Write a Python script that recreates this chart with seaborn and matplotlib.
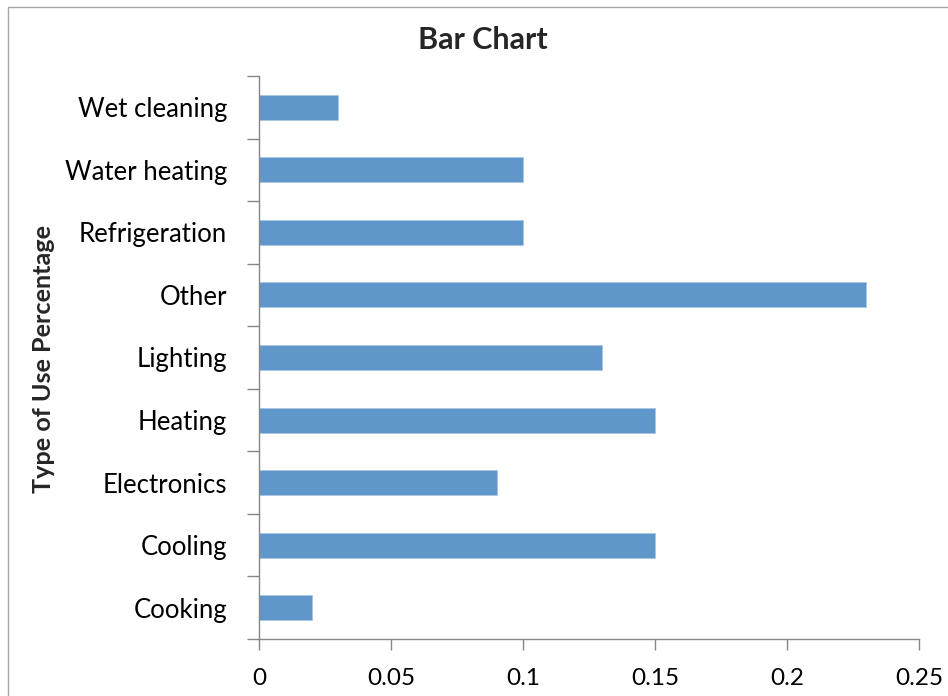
import matplotlib
matplotlib.use("Agg")
import matplotlib.pyplot as plt
import seaborn as sns
import pandas as pd
from matplotlib.patches import Rectangle
from matplotlib.ticker import FixedLocator

# Data (top to bottom as drawn):
uses = ["Wet cleaning", "Water heating", "Refrigeration", "Other", "Lighting",
        "Heating", "Electronics", "Cooling", "Cooking"]
shares = [0.03, 0.10, 0.10, 0.23, 0.13, 0.15, 0.09, 0.15, 0.02]
x_ticks = [0, 0.05, 0.1, 0.15, 0.2, 0.25]
x_labels = ["0", "0.05", "0.1", "0.15", "0.2", "0.25"]

df = pd.DataFrame({"use": uses, "share": shares})

sns.set_style("white")
plt.rcParams["font.family"] = ["Lato", "DejaVu Sans"]

fig = plt.figure(figsize=(9.48, 6.96), dpi=100)
ax = fig.add_axes([259 / 948, 1 - 639 / 696, 660 / 948, 563 / 696])

sns.barplot(data=df, x="share", y="use", order=uses, color="#6097CB",
            saturation=1, width=0.4, edgecolor="#A9C6E3", linewidth=0.6, ax=ax)

# Axes styling like the spreadsheet chart:
grey = "#868686"
ax.set_xlim(0, 0.25)
ax.set_ylim(len(uses) - 0.5, -0.5)
ax.set_xticks(x_ticks)
ax.set_xticklabels(x_labels)
ax.yaxis.set_minor_locator(FixedLocator([i - 0.5 for i in range(len(uses) + 1)]))
ax.tick_params(axis="y", which="major", length=0, pad=23, labelsize=18.5, labelcolor="black")
ax.tick_params(axis="y", which="minor", length=9, width=1, color=grey, direction="out", left=True)
ax.tick_params(axis="x", length=8, width=1, color=grey, direction="out", pad=13,
               labelsize=17.5, labelcolor="black", bottom=True)
for side in ["top", "right"]:
    ax.spines[side].set_visible(False)
for side in ["left", "bottom"]:
    ax.spines[side].set_color(grey)
    ax.spines[side].set_linewidth(1)

ax.set_xlabel("")
ax.set_ylabel("")
fig.text(44 / 948, 1 - 359 / 696, "Type of Use Percentage", rotation=90,
         ha="center", va="center", fontsize=18.2, fontweight="bold")
fig.text(483 / 948, 1 - 40 / 696, "Bar Chart", ha="center", va="center",
         fontsize=22, fontweight="bold")

# Chart area border
fig.patches.append(Rectangle((8 / 948, -0.05), 1.0, 1 - 7 / 696 + 0.05,
                             transform=fig.transFigure, fill=False,
                             edgecolor="#A6A6A6", linewidth=1))

fig.savefig("out.png", dpi=100)
